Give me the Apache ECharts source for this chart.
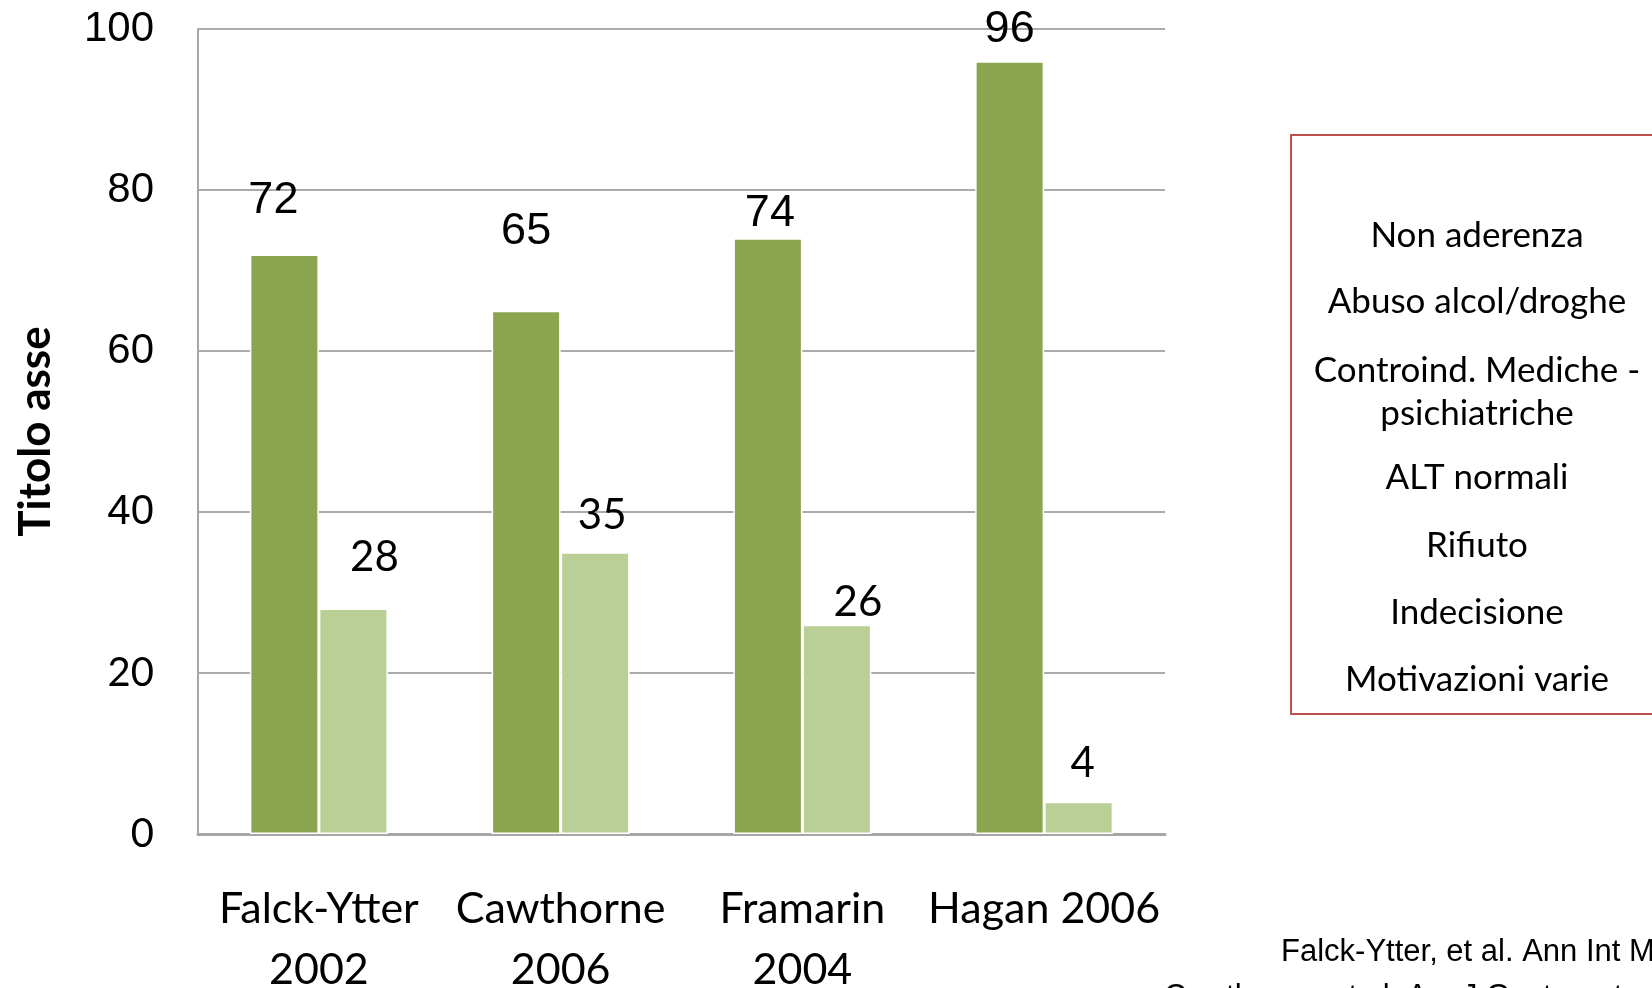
<!DOCTYPE html>
<html>
<head>
<meta charset="utf-8">
<title>Titolo asse</title>
<script src="https://cdn.jsdelivr.net/npm/echarts@6/dist/echarts.min.js"></script>
<style>
  html, body { margin: 0; padding: 0; background: #fff; }
  #chart { width: 1652px; height: 988px; }
</style>
</head>
<body>
<div id="chart"></div>
<script>
// dati
const studies = ['Falck-Ytter\n2002', 'Cawthorne\n2006', 'Framarin\n2004', 'Hagan 2006']
const darkValues = [72, 65, 74, 96]
const lightValues = [28, 35, 26, 4]
const yTicks = { min: 0, max: 100, interval: 20 }
const reasons = [
  'Non aderenza',
  'Abuso alcol/droghe',
  'Controind. Mediche -\npsichiatriche',
  'ALT normali',
  'Rifiuto',
  'Indecisione',
  'Motivazioni varie'
]
const citations = [
  'Falck-Ytter, et al. Ann Int Med 2002',
  'Cawthorne, et al. Am J Gastroenterol 2006'
]

// spostamenti delle etichette (come nel grafico originale, messe a mano)
const darkLabelShift = [[-11, -31], [0, -57], [2, -2], [0, -9]]
const lightLabelShift = [[21, -30], [7, -16], [21, -1], [4, -17]]

const calibri = 'Lato, "Open Sans", sans-serif'
const arial = '"Liberation Sans", Arial, sans-serif'

const chart = echarts.init(document.getElementById('chart'))

const makeData = (values, shifts) => values.map((v, i) => ({
  value: v,
  label: { offset: shifts[i] }
}))

// testo del riquadro rosso
const boxTexts = []
let lineY = [236, 302, 392, 478, 546, 613, 680]
reasons.forEach((r, i) => {
  boxTexts.push({
    type: 'text',
    x: 1477,
    y: lineY[i],
    style: {
      text: r,
      font: '35px ' + calibri,
      fill: '#000',
      align: 'center',
      verticalAlign: 'middle',
      lineHeight: 43
    }
  })
})

const option = {
  backgroundColor: '#fff',
  animation: false,
  grid: {
    left: 198,
    top: 29,
    right: 487,
    bottom: 154,
    containLabel: false,
    outerBoundsMode: 'none'
  },
  xAxis: {
    type: 'category',
    data: studies,
    axisLine: { lineStyle: { color: '#A6A6A6', width: 3 } },
    axisTick: { show: false },
    axisLabel: {
      color: '#000',
      fontFamily: calibri,
      fontSize: 43,
      lineHeight: 61,
      margin: 45,
      interval: 0
    }
  },
  yAxis: {
    type: 'value',
    min: yTicks.min,
    max: yTicks.max,
    interval: yTicks.interval,
    name: 'Titolo asse',
    nameLocation: 'middle',
    nameGap: 140,
    nameTextStyle: {
      color: '#000',
      fontFamily: calibri,
      fontWeight: 'bold',
      fontSize: 44
    },
    axisLine: { show: true, lineStyle: { color: '#A6A6A6', width: 2 } },
    axisTick: { show: false },
    splitLine: { lineStyle: { color: '#ABABAB', width: 2 } },
    axisLabel: {
      margin: 44,
      formatter: (v) => v >= 40 ? '{a|' + v + '}' : '{c|' + v + '}',
      rich: {
        a: { color: '#000', fontFamily: arial, fontSize: 42 },
        c: { color: '#000', fontFamily: calibri, fontSize: 40 }
      }
    }
  },
  series: [
    {
      name: 'serie 1',
      type: 'bar',
      data: makeData(darkValues, darkLabelShift),
      barWidth: 69,
      barGap: '0%',
      itemStyle: { color: '#8BA54E', borderColor: '#fff', borderWidth: 1.5 },
      label: {
        show: true,
        position: 'top',
        distance: 0,
        color: '#000',
        fontFamily: arial,
        fontSize: 45,
        lineHeight: 45
      }
    },
    {
      name: 'serie 2',
      type: 'bar',
      data: makeData(lightValues, lightLabelShift),
      barWidth: 69,
      barGap: '0%',
      itemStyle: { color: '#B9CF96', borderColor: '#fff', borderWidth: 1.5 },
      label: {
        show: true,
        position: 'top',
        distance: 0,
        color: '#000',
        fontFamily: calibri,
        fontSize: 42,
        lineHeight: 42
      }
    }
  ],
  graphic: [
    {
      type: 'rect',
      shape: { x: 1291, y: 135, width: 380, height: 579 },
      style: { fill: 'none', stroke: '#C0504D', lineWidth: 2 }
    },
    ...boxTexts,
    {
      type: 'text',
      x: 1281,
      y: 952,
      style: {
        text: citations[0],
        font: '31px ' + arial,
        fill: '#000',
        verticalAlign: 'middle'
      }
    },
    {
      type: 'text',
      x: 1164,
      y: 997,
      style: {
        text: citations[1],
        font: '31px ' + arial,
        fill: '#000',
        verticalAlign: 'middle'
      }
    }
  ]
}

chart.setOption(option)
</script>
</body>
</html>
